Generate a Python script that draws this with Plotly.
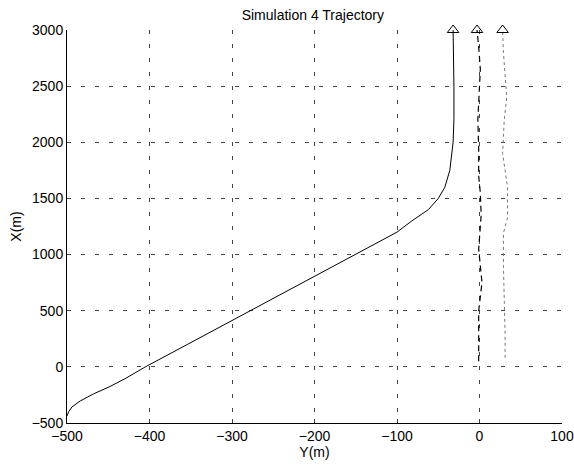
import plotly.graph_objects as go

# Main trajectory (Y(m) horizontal, X(m) vertical)
main_x = [-437, -400, -357, -304, -241, -179, -107, 0, 200, 400, 600, 800, 1000, 1200, 1300, 1400, 1500, 1600, 1750, 2000, 2200, 2500, 3000]
main_y = [-500, -498, -494, -484, -468, -449, -430, -405, -354, -303, -252, -201, -151, -100, -82, -62, -50, -42, -36, -32, -31, -31, -32]

# Second trajectory near Y = 0
sec_x = [50, 250, 500, 750, 1050, 1350, 1550, 1700, 1950, 2200, 2400, 2650, 2850, 3000]
sec_y = [-1, -1, -1, 3, -1, 2, 1, -1, -1, -2, -1, 1, -1, -3]

# Third trajectory near Y = 30
thr_x = [80, 300, 600, 900, 1190, 1330, 1600, 1900, 2050, 2200, 2400, 2800, 3000]
thr_y = [31, 31, 30, 29, 29, 34, 34, 28, 29, 30, 33, 29, 28]

# End markers
end_y = [-32, -3, 28]
end_x = [3000, 3000, 3000]

x_ticks = [-500, -400, -300, -200, -100, 0, 100]
y_ticks = [-500, 0, 500, 1000, 1500, 2000, 2500, 3000]

fig = go.Figure()
fig.add_trace(go.Scatter(x=main_y, y=main_x, mode="lines",
                         line=dict(color="black", width=1), showlegend=False))
fig.add_trace(go.Scatter(x=sec_y, y=sec_x, mode="lines",
                         line=dict(color="black", width=1.2, dash="6px,4px"), showlegend=False))
fig.add_trace(go.Scatter(x=thr_y, y=thr_x, mode="lines",
                         line=dict(color="#777777", width=1, dash="dot"), showlegend=False))
fig.add_trace(go.Scatter(x=end_y, y=end_x, mode="markers",
                         marker=dict(symbol="triangle-up-open", size=10, color="black", line=dict(width=1)),
                         showlegend=False, cliponaxis=False))

font = dict(family="Liberation Sans, Arial, sans-serif", size=14, color="black")

fig.update_layout(
    width=574, height=468,
    margin=dict(l=67, r=12, t=30, b=45),
    paper_bgcolor="white", plot_bgcolor="white",
    font=font,
    title=dict(text="Simulation 4 Trajectory", x=0.545, xanchor="center", y=0.978, yanchor="top",
               font=dict(family="Liberation Sans, Arial, sans-serif", size=14, color="black")),
    xaxis=dict(range=[-500, 100], tickvals=x_ticks, ticks="inside", ticklen=4,
               showline=True, linecolor="black", linewidth=1, mirror=False,
               showgrid=True, gridcolor="#444444", griddash="4px,10px", gridwidth=1,
               zeroline=False, tickfont=font, automargin=False,
               title=dict(text="Y(m)", font=font, standoff=2)),
    yaxis=dict(range=[-500, 3000], tickvals=y_ticks, ticks="inside", ticklen=4,
               showline=True, linecolor="black", linewidth=1, mirror=False,
               showgrid=True, gridcolor="#444444", griddash="4px,10px", gridwidth=1,
               zeroline=False, tickfont=font, automargin=False,
               title=dict(text="X(m)", font=font, standoff=6)),
)

# Remove the default page margin so the figure fills the 574x468 window exactly.
fig.write_html("out.html",
               config={"displayModeBar": False},
               post_script="document.body.style.margin='0';document.body.style.overflow='hidden';")
